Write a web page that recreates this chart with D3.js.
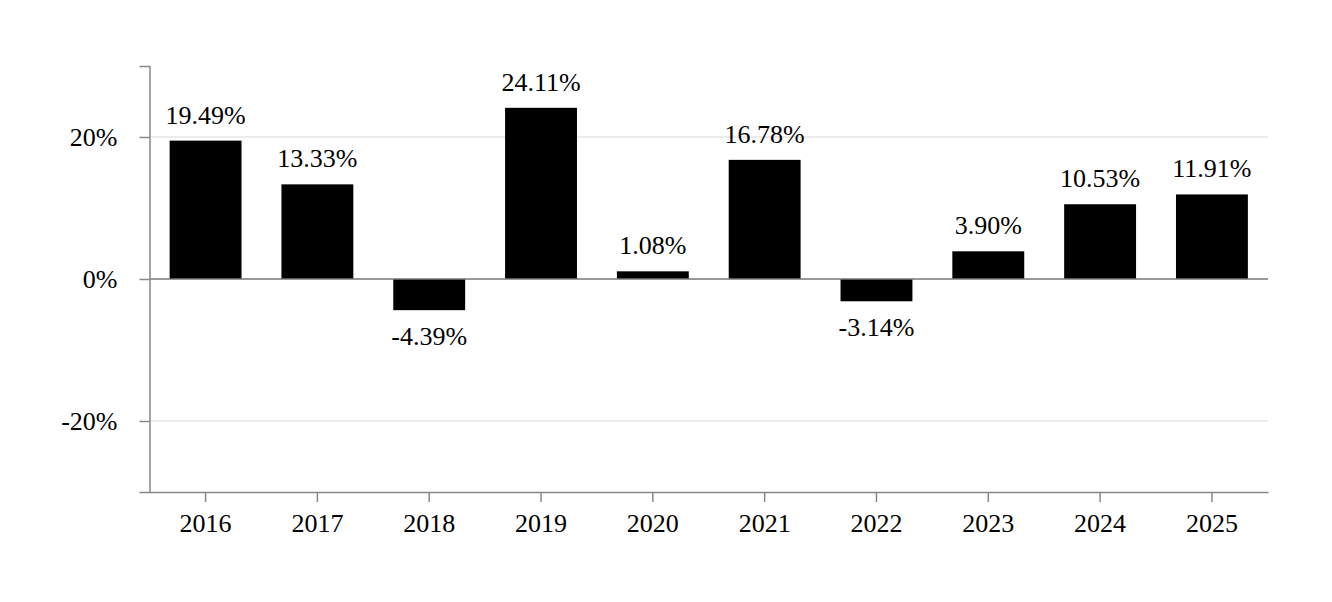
<!DOCTYPE html>
<html>
<head>
<meta charset="utf-8">
<script src="https://cdn.jsdelivr.net/npm/d3@7"></script>
<style>
  html, body { margin: 0; padding: 0; background: #fff; }
  svg text { font-family: "Liberation Serif", "Times New Roman", serif; fill: #000; }
</style>
</head>
<body>
<svg id="chart" width="1332" height="602"></svg>
<script>
const years = ["2016","2017","2018","2019","2020","2021","2022","2023","2024","2025"];
const returns = [19.49, 13.33, -4.39, 24.11, 1.08, 16.78, -3.14, 3.90, 10.53, 11.91];
const yTicks = [-20, 0, 20];

const W = 1332, H = 602;
const margin = { top: 66, right: 64, bottom: 110, left: 149.5 };
const svg = d3.select("#chart");
const g = svg.append("g").attr("transform", `translate(${margin.left},${margin.top})`);
const iw = W - margin.left - margin.right, ih = H - margin.top - margin.bottom;

const x = d3.scaleBand().domain(years).range([0, iw]).paddingInner(0.357).paddingOuter(0.18);
const y = d3.scaleLinear().domain([-30, 30]).range([ih, 0]);

// gridlines
g.append("g").selectAll("line").data(yTicks.filter(d => d !== 0)).join("line")
  .attr("x1", 0).attr("x2", iw).attr("y1", d => y(d)).attr("y2", d => y(d))
  .attr("stroke", "#e6e6e6").attr("stroke-width", 1.5);

// bars
g.append("g").selectAll("rect").data(years.map((yr, i) => ({ yr, v: returns[i] }))).join("rect")
  .attr("x", d => x(d.yr))
  .attr("width", x.bandwidth())
  .attr("y", d => y(Math.max(0, d.v)))
  .attr("height", d => Math.abs(y(d.v) - y(0)))
  .attr("fill", "#000");

// zero line
g.append("line").attr("x1", 0).attr("x2", iw).attr("y1", y(0)).attr("y2", y(0))
  .attr("stroke", "#777").attr("stroke-width", 1.5);

// value labels
g.append("g").selectAll("text").data(years.map((yr, i) => ({ yr, v: returns[i] }))).join("text")
  .attr("x", d => x(d.yr) + x.bandwidth() / 2)
  .attr("y", d => d.v >= 0 ? y(d.v) - 17 : y(d.v) + 35)
  .attr("text-anchor", "middle")
  .attr("font-size", 26)
  .text(d => d.v.toFixed(2) + "%");

// y axis
const yAxis = g.append("g").call(d3.axisLeft(y).tickValues(yTicks).tickSize(10).tickPadding(22).tickFormat(d => d + "%"));
yAxis.select(".domain").attr("stroke", "#888").attr("stroke-width", 1.5);
yAxis.selectAll(".tick line").attr("stroke", "#888").attr("stroke-width", 1.5);
yAxis.selectAll("text").attr("font-size", 26).attr("font-family", "Liberation Serif, serif");

// x axis
const xAxis = g.append("g").attr("transform", `translate(0,${ih})`)
  .call(d3.axisBottom(x).tickSize(10).tickPadding(12).tickSizeOuter(0));
xAxis.select(".domain").attr("stroke", "#888").attr("stroke-width", 1.5);
xAxis.selectAll(".tick line").attr("stroke", "#888").attr("stroke-width", 1.5);
xAxis.selectAll("text").attr("font-size", 26).attr("font-family", "Liberation Serif, serif");
</script>
</body>
</html>
